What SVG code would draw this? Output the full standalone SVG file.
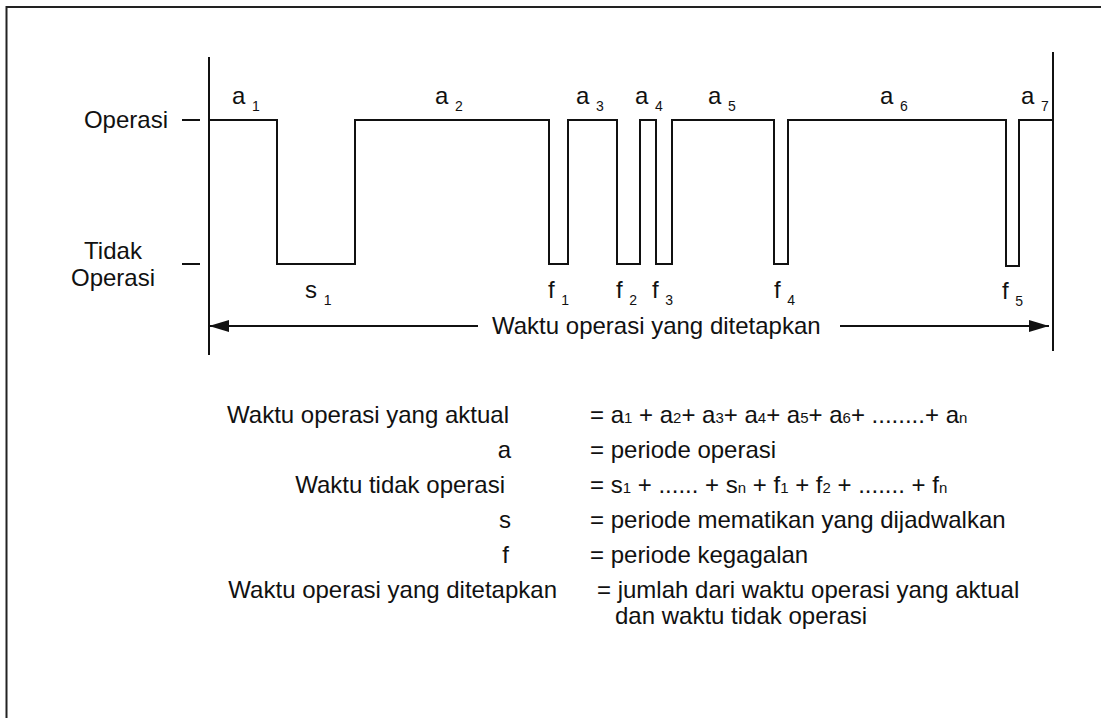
<svg xmlns="http://www.w3.org/2000/svg" width="1101" height="718" viewBox="0 0 1101 718">
<defs>
<style>
text{font-family:"Liberation Sans",Arial,sans-serif;fill:#111;}
.t{font-size:24px;}
.sub{font-size:14px;}
.ds{font-size:15px;}
.ln{stroke:#111;stroke-width:2;fill:none;}
</style>
<marker id="ah" viewBox="0 0 20 12" refX="20" refY="6" markerWidth="20" markerHeight="12" markerUnits="userSpaceOnUse" orient="auto-start-reverse">
<path d="M0,0 L20,6 L0,12 Z" fill="#111"/>
</marker>
</defs>
<rect width="1101" height="718" fill="#fff"/>
<rect x="6.5" y="7" width="1200" height="800" fill="none" stroke="#222" stroke-width="2"/>
<g id="axes">
<line class="ln" x1="209" y1="57" x2="209" y2="355"/>
<line class="ln" x1="1053" y1="52" x2="1053" y2="351"/>
<line class="ln" x1="182" y1="120" x2="200" y2="120"/>
<line class="ln" x1="182" y1="264" x2="200" y2="264"/>
<text class="t" x="168" y="128" text-anchor="end">Operasi</text>
<text class="t" x="113" y="259" text-anchor="middle">Tidak</text>
<text class="t" x="113" y="286" text-anchor="middle">Operasi</text>
</g>
<g id="waveform">
<path class="ln" d="M209,120 H277 V264 H355 V120 H549 V264 H568 V120 H617 V264 H640 V120 H656 V264 H672 V120 H774 V264 H788 V120 H1006 V266 H1019 V120 H1053"/>
</g>
<g id="labels-a">
<text class="t" x="232" y="104">a <tspan class="sub" dy="7">1</tspan></text>
<text class="t" x="435" y="104">a <tspan class="sub" dy="7">2</tspan></text>
<text class="t" x="576" y="104">a <tspan class="sub" dy="7">3</tspan></text>
<text class="t" x="635" y="104">a <tspan class="sub" dy="7">4</tspan></text>
<text class="t" x="708" y="104">a <tspan class="sub" dy="7">5</tspan></text>
<text class="t" x="880" y="104">a <tspan class="sub" dy="7">6</tspan></text>
<text class="t" x="1021" y="104">a <tspan class="sub" dy="7">7</tspan></text>
</g>
<g id="labels-sf">
<text class="t" x="305" y="298">s <tspan class="sub" dy="7">1</tspan></text>
<text class="t" x="548" y="298">f <tspan class="sub" dy="7">1</tspan></text>
<text class="t" x="616" y="298">f <tspan class="sub" dy="7">2</tspan></text>
<text class="t" x="652" y="298">f <tspan class="sub" dy="7">3</tspan></text>
<text class="t" x="774" y="298">f <tspan class="sub" dy="7">4</tspan></text>
<text class="t" x="1002" y="299">f <tspan class="sub" dy="7">5</tspan></text>
</g>
<g id="connectors">
<line class="ln" x1="478" y1="326" x2="209" y2="326" marker-end="url(#ah)"/>
<line class="ln" x1="840" y1="326" x2="1049" y2="326" marker-end="url(#ah)"/>
<text class="t" x="492" y="334">Waktu operasi yang ditetapkan</text>
</g>
<g id="definitions">
<text class="t" x="509" y="423" text-anchor="end">Waktu operasi yang aktual</text>
<text class="t" x="590" y="423">= a<tspan class="ds">1</tspan> + a<tspan class="ds">2</tspan>+ a<tspan class="ds">3</tspan>+ a<tspan class="ds">4</tspan>+ a<tspan class="ds">5</tspan>+ a<tspan class="ds">6</tspan>+ ........+ a<tspan class="ds">n</tspan></text>
<text class="t" x="511" y="458" text-anchor="end">a</text>
<text class="t" x="590" y="458">= periode operasi</text>
<text class="t" x="505" y="493" text-anchor="end">Waktu tidak operasi</text>
<text class="t" x="590" y="493">= s<tspan class="ds">1</tspan> + ...... + s<tspan class="ds">n</tspan> + f<tspan class="ds">1</tspan> + f<tspan class="ds">2</tspan> + ....... + f<tspan class="ds">n</tspan></text>
<text class="t" x="511" y="528" text-anchor="end">s</text>
<text class="t" x="590" y="528">= periode mematikan yang dijadwalkan</text>
<text class="t" x="509" y="563" text-anchor="end">f</text>
<text class="t" x="590" y="563">= periode kegagalan</text>
<text class="t" x="557" y="598" text-anchor="end">Waktu operasi yang ditetapkan</text>
<text class="t" x="597" y="598">= jumlah dari waktu operasi yang aktual</text>
<text class="t" x="615" y="624">dan waktu tidak operasi</text>
</g>
</svg>
